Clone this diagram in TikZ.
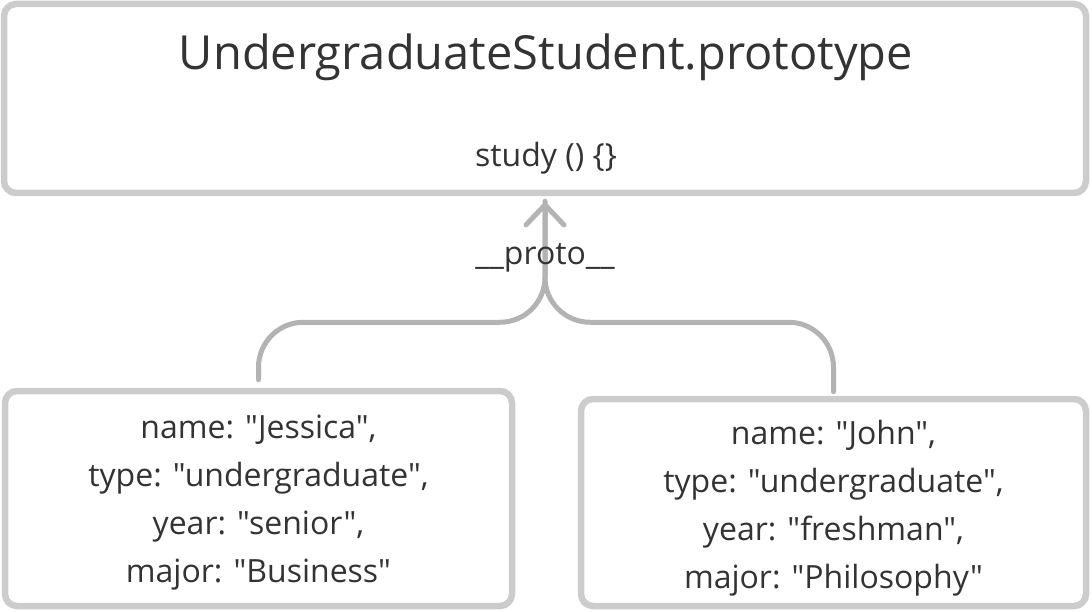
\documentclass[tikz,border=0pt]{standalone}
\usepackage{fontspec}
\setmainfont{Open Sans}[Ligatures=TeXOff]
\usetikzlibrary{arrows.meta,calc}
\definecolor{boxgray}{HTML}{CCCCCC}
\definecolor{linegray}{HTML}{B3B3B3}
\definecolor{ink}{HTML}{333333}

\tikzset{
  objbox/.style={draw=boxgray, line width=6.5pt, rounded corners=12pt, inner sep=0pt},
  conn/.style={draw=linegray, line width=5pt, line cap=round, line join=round},
  body/.style={text=ink, font=\fontsize{32}{48}\selectfont, align=center},
}

\begin{document}
\begin{tikzpicture}[x=1pt,y=-1pt]
          \useasboundingbox (0,0) rectangle (1092,612);

          % prototype object
          \node[objbox, minimum width=1082pt, minimum height=189pt] (proto) at (545,98.5) {};
          \node[text=ink, font=\fontsize{47}{56}\selectfont, anchor=base] (title) at (546,70) {UndergraduateStudent.prototype};
          \node[body, anchor=base] (study) at (546,167) {study () \{\}};

          % instances
          \node[objbox, minimum width=507pt, minimum height=215pt] (jessica) at (258.5,498.5) {};
          \node[body] (jessicatxt) at ($(jessica.center)+(0,4.5)$) {name: "Jessica",\\type: "undergraduate",\\year: "senior",\\major: "Business"};
          \node[objbox, minimum width=505pt, minimum height=207pt] (john) at (833.5,502.5) {};
          \node[body] (johntxt) at ($(john.center)+(0,5.5)$) {name: "John",\\type: "undergraduate",\\year: "freshman",\\major: "Philosophy"};

          % __proto__ links
          \coordinate (tip) at ($(proto.south)+(0,5)$);
          \coordinate (hub) at ($(tip)+(0,121)$);
          \draw[conn, -{Straight Barb[length=20pt,width=38pt,line cap=round]}] ($(jessica.north)+(0,-8)$) [rounded corners=45pt] |- (hub) [rounded corners=30pt] -- (tip);
          \draw[conn] ($(john.north)+(0,-4)$) [rounded corners=45pt] |- (hub) [rounded corners=30pt] -- (tip);

          \node[text=ink, font=\fontsize{32}{38}\selectfont, anchor=base] (protolbl) at (545,265) {\_\_proto\_\_};
        \end{tikzpicture}
\end{document}
